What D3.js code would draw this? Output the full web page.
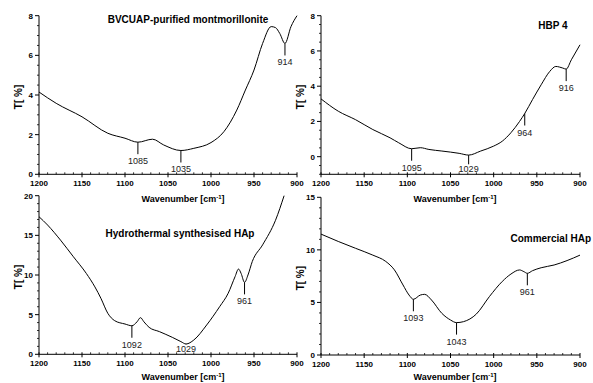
<!DOCTYPE html>
<html><head><meta charset="utf-8">
<script src="https://cdn.jsdelivr.net/npm/d3@7"></script>
<style>body{margin:0;background:#fff}svg{display:block}text{font-family:"Liberation Sans",Arial,sans-serif}</style>
</head><body><svg id="c" width="593" height="383"></svg>
<script>
// Wavenumbers (cm-1) and transmittance T[%]
const montWave = [1200,1180,1150,1120,1100,1085,1068,1055,1035,1020,1000,985,970,960,950,940,930,925,920,914,907,900];
const montT    = [4.15,3.58,2.9,2.07,1.82,1.62,1.77,1.48,1.2,1.31,1.6,2.15,3.24,4.25,5.26,6.6,7.45,7.4,7.1,6.6,7.45,8.0];
const montPeaks = [1085,1035,914];

const hbpWave = [1200,1180,1160,1140,1120,1110,1095,1085,1075,1060,1050,1040,1029,1015,1000,990,980,970,964,955,945,935,928,920,916,910,900];
const hbpT    = [3.28,2.58,2.1,1.54,1.07,0.79,0.45,0.51,0.41,0.32,0.26,0.19,0.09,0.32,0.6,0.88,1.36,2.0,2.45,3.24,4.08,4.84,5.12,5.03,4.97,5.5,6.35];
const hbpPeaks = [1095,1029,964,916];

const hydroWave = [1200,1190,1175,1160,1145,1135,1128,1120,1112,1100,1092,1086,1082,1078,1072,1060,1045,1035,1029,1020,1005,990,980,972,968,965,961,957,952,940,925,915];
const hydroT    = [17.35,16.3,14.4,12.3,10.2,8.5,7.06,5.17,4.24,3.82,3.6,4.1,4.62,4.1,3.4,2.86,2.14,1.6,1.3,1.8,3.7,6.0,7.7,9.8,10.75,10.2,9.07,10.0,11.7,13.8,16.9,20.0];
const hydroPeaks = [1092,1029,961];

const commWave = [1200,1180,1160,1140,1125,1115,1105,1098,1093,1085,1080,1072,1060,1050,1043,1035,1020,1005,990,980,970,965,961,955,945,930,915,900];
const commT    = [11.5,10.8,10.15,9.5,8.9,8.1,6.66,5.7,5.3,5.7,5.77,5.23,3.96,3.33,3.08,3.17,3.9,5.55,7.0,7.7,8.09,7.93,7.77,8.02,8.3,8.56,8.98,9.5];
const commPeaks = [1093,1043,961];

const xTicks = [1200,1150,1100,1050,1000,950,900];
const montYTicks = [0,2,4,6,8];
const hbpYTicks = [0,2,4,6,8];
const hydroYTicks = [0,5,10,15,20];
const commYTicks = [0,5,10,15];

const titles = ["BVCUAP-purified montmorillonite","HBP 4","Hydrothermal synthesised HAp","Commercial HAp"];
const xTitle = "Wavenumber [cm";
const yTitle = "T[ %]";

const svg = d3.select("#c");

const panels = [
  {wave:montWave, t:montT, peaks:montPeaks, yd:[0,8], yt:montYTicks, minor:0.5,
   x:[39,297], y:[174.3,15.7], title:titles[0], tx:188, ty:23, anchor:"middle", ylx:18, xtx:183, xty:202},
  {wave:hbpWave, t:hbpT, peaks:hbpPeaks, yd:[-1,8], yt:hbpYTicks, minor:0.5,
   x:[321,580], y:[174.3,15.7], title:titles[1], tx:553, ty:29, anchor:"middle", ylx:300, xtx:455, xty:202},
  {wave:hydroWave, t:hydroT, peaks:hydroPeaks, yd:[0,20], yt:hydroYTicks, minor:1,
   x:[39,297], y:[354.3,195.7], title:titles[2], tx:180, ty:237, anchor:"middle", ylx:18, xtx:183, xty:380},
  {wave:commWave, t:commT, peaks:commPeaks, yd:[0,15], yt:commYTicks, minor:1,
   x:[321,580], y:[355,197.3], title:titles[3], tx:591, ty:242, anchor:"end", ylx:300, xtx:455, xty:380}
];

panels.forEach(p => {
  const x = d3.scaleLinear().domain([1200,900]).range(p.x);
  const y = d3.scaleLinear().domain(p.yd).range(p.y);
  const g = svg.append("g");

  // x axis
  g.append("line").attr("x1",p.x[0]).attr("x2",p.x[1]).attr("y1",p.y[0]).attr("y2",p.y[0]).attr("stroke","#000");
  d3.range(1200,899,-10).forEach(w => {
    const major = xTicks.includes(w);
    g.append("line").attr("x1",x(w)).attr("x2",x(w))
     .attr("y1",p.y[0]+(major?3:0)).attr("y2",p.y[0]-2).attr("stroke","#000").attr("stroke-width",major?1:0.8);
  });
  xTicks.forEach(w => {
    g.append("text").attr("x",x(w)).attr("y",p.y[0]+12).attr("text-anchor","middle")
     .attr("font-size",8).attr("font-weight","bold").text(w);
  });

  // y axis
  g.append("line").attr("x1",p.x[0]).attr("x2",p.x[0]).attr("y1",p.y[0]).attr("y2",p.y[1]).attr("stroke","#000");
  for (let v = p.yd[0]; v <= p.yd[1] + 1e-9; v += p.minor) {
    const major = p.yt.some(t => Math.abs(t - v) < 1e-9);
    g.append("line").attr("x1",p.x[0]-(major?4:2)).attr("x2",p.x[0]).attr("y1",y(v)).attr("y2",y(v)).attr("stroke","#000").attr("stroke-width",major?1:0.8);
  }
  p.yt.forEach(v => {
    g.append("text").attr("x",p.x[0]-6).attr("y",y(v)+3).attr("text-anchor","end")
     .attr("font-size",8).attr("font-weight","bold").text(v);
  });

  // y title
  const ymid = (p.y[0]+p.y[1])/2 + 2;
  g.append("text").attr("transform",`translate(${p.ylx+4},${ymid}) rotate(-90)`).attr("text-anchor","middle")
   .attr("font-size",10).attr("font-weight","bold").text(yTitle);

  // x title
  const xt = g.append("text").attr("x",p.xtx).attr("y",p.xty).attr("text-anchor","middle")
   .attr("font-size",9).attr("font-weight","bold");
  xt.append("tspan").text(xTitle);
  xt.append("tspan").attr("dy",-3).attr("font-size",6).text("-1");
  xt.append("tspan").attr("dy",3).text("]");

  // title
  g.append("text").attr("x",p.tx).attr("y",p.ty).attr("text-anchor",p.anchor)
   .attr("font-size",10).attr("font-weight","bold").text(p.title);

  // curve
  const pts = p.wave.map((w,i) => [w, p.t[i]]);
  g.append("path").datum(pts).attr("fill","none").attr("stroke","#000").attr("stroke-width",1)
   .attr("d", d3.line().x(d => x(d[0])).y(d => y(d[1])).curve(d3.curveMonotoneX));

  // peak annotations
  p.peaks.forEach(w => {
    const i = p.wave.indexOf(w);
    const cy = y(p.t[i]);
    const base = Math.min(cy + 22, p.y[0] - 2);
    const end = Math.min(cy + 12, base - 8);
    g.append("line").attr("x1",x(w)).attr("x2",x(w)).attr("y1",cy).attr("y2",end).attr("stroke","#000");
    g.append("text").attr("x",x(w)).attr("y",base).attr("text-anchor","middle")
     .attr("font-size",9).attr("fill","#222").text(w);
  });
});
</script></body></html>
